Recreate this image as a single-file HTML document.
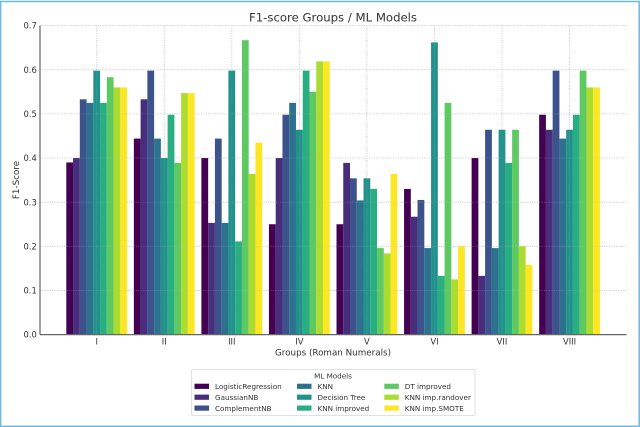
<!DOCTYPE html>
<html>
<head>
<meta charset="utf-8">
<style>
html,body{margin:0;padding:0;background:#fff;width:640px;height:427px;overflow:hidden}
svg{display:block;filter:blur(0.3px)}
text{font-family:"DejaVu Sans","Liberation Sans",sans-serif;fill:#333}
</style>
</head>
<body>
<svg id="chart" width="640" height="427" viewBox="0 0 640 427" xmlns="http://www.w3.org/2000/svg"></svg>
<script>
const groups = ['I','II','III','IV','V','VI','VII','VIII'];
const models = ['LogisticRegression','GaussianNB','ComplementNB','KNN','Decision Tree','KNN improved','DT improved','KNN imp.randover','KNN imp.SMOTE'];
const modelColors = ['#440154','#472d7b','#3b528b','#2c728e','#21918c','#28ae80','#5ec962','#addc30','#fde725'];
const yTicks = [0,0.1,0.2,0.3,0.4,0.5,0.6,0.7];
const seriesLogisticRegression = [0.39,0.444,0.40,0.25,0.25,0.33,0.40,0.498];
const seriesGaussianNB = [0.40,0.533,0.253,0.40,0.389,0.267,0.133,0.464];
const seriesComplementNB = [0.533,0.598,0.444,0.498,0.354,0.305,0.464,0.598];
const seriesKNN = [0.525,0.444,0.253,0.525,0.304,0.196,0.196,0.444];
const seriesDecisionTree = [0.598,0.40,0.598,0.464,0.354,0.662,0.464,0.464];
const seriesKNNImproved = [0.525,0.498,0.211,0.598,0.33,0.133,0.389,0.498];
const seriesDTImproved = [0.583,0.389,0.667,0.55,0.196,0.525,0.464,0.598];
const seriesKNNRandover = [0.56,0.547,0.364,0.619,0.184,0.125,0.20,0.56];
const seriesKNNSMOTE = [0.56,0.547,0.435,0.619,0.364,0.20,0.158,0.56];
const allSeries = [seriesLogisticRegression,seriesGaussianNB,seriesComplementNB,seriesKNN,seriesDecisionTree,seriesKNNImproved,seriesDTImproved,seriesKNNRandover,seriesKNNSMOTE];

const svg = document.getElementById('chart');
const NS = 'http://www.w3.org/2000/svg';
const plotLeft = 40, plotRight = 626.5, plotTop = 25.6, plotBottom = 334.6;
const groupStep = 67.55, firstGroup = 96.7, barW = 6.755;
function xScale(i){ return firstGroup + i * groupStep; }
function yScale(v){ return plotBottom - (v / 0.7) * (plotBottom - plotTop); }
function mk(tag, attrs, parent){
  const el = document.createElementNS(NS, tag);
  for (const k in attrs) el.setAttribute(k, attrs[k]);
  (parent || svg).appendChild(el);
  return el;
}
function label(str, x, y, size, anchor, parent){
  const t = mk('text', {x:x, y:y, 'font-size':size, 'text-anchor':anchor}, parent);
  t.textContent = str;
  return t;
}
function drawGrid(g){
  yTicks.forEach(function(v){
    if (v === 0) return;
    mk('line', {x1:plotLeft, x2:plotRight, y1:yScale(v), y2:yScale(v)}, g);
  });
  groups.forEach(function(n, i){
    mk('line', {x1:xScale(i), x2:xScale(i), y1:plotTop, y2:plotBottom}, g);
  });
}

const frame = mk('rect', {x:0.6, y:1.5, width:638.6, height:424.8, fill:'none', stroke:'#6db8e2', 'stroke-width':1.5});



const grid = mk('g', {stroke:'#bbbbbb', 'stroke-width':0.8, 'stroke-dasharray':'1.2 1.2', opacity:0.7});


drawGrid(grid);

const bars = mk('g', {});


allSeries.forEach(function(vals, s){
  vals.forEach(function(v, g){
    const r = mk('rect', {
      x: xScale(g) + (s - 4.5) * barW,
      y: yScale(v),
      width: barW,
      height: yScale(0) - yScale(v),
      fill: modelColors[s]
    }, bars);
    
    
  });
});

const gridOverlay = mk('g', {stroke:'#bbbbbb', 'stroke-width':0.8, 'stroke-dasharray':'1.2 1.2', opacity:0.3});


drawGrid(gridOverlay);

const yAxisLine = mk('line', {x1:plotLeft, x2:plotLeft, y1:plotTop, y2:plotBottom, stroke:'#666', 'stroke-width':1.2});


const xAxisLine = mk('line', {x1:plotLeft, x2:plotRight, y1:plotBottom, y2:plotBottom, stroke:'#666', 'stroke-width':1.2});



yTicks.forEach(function(v){
  const t = label(v.toFixed(1), 36.8, yScale(v) + 3.1, 8.4, 'end');
  
  
});
groups.forEach(function(n, i){
  const t = label(n, xScale(i), 344.3, 8.4, 'middle');
  
  
});

const title = label('F1-score Groups / ML Models', 333, 21.3, 11.7, 'middle');


const xTitle = label('Groups (Roman Numerals)', 333, 355.5, 8.75, 'middle');


const yTitle = label('F1-Score', 0, 0, 8.75, 'middle');
yTitle.setAttribute('transform', 'translate(19 180) rotate(-90)');



const legend = mk('g', {});


mk('rect', {x:191.5, y:369.5, width:283.5, height:46, rx:1.5, fill:'#fff', stroke:'#d8d8d8', 'stroke-width':0.8}, legend);
const legendTitle = label('ML Models', 333, 378.5, 7.2, 'middle', legend);


const colX = [194.5, 297, 384.3];
models.forEach(function(m, i){
  const c = Math.floor(i / 3), row = i % 3;
  const y = 383.7 + row * 10.9;
  const item = mk('g', {}, legend);
  
  
  mk('rect', {x:colX[c], y:y, width:14.5, height:5.2, fill:modelColors[i]}, item);
  label(m, colX[c] + 20.5, y + 5.5, 7.2, 'start', item);
});
</script>
</body>
</html>
